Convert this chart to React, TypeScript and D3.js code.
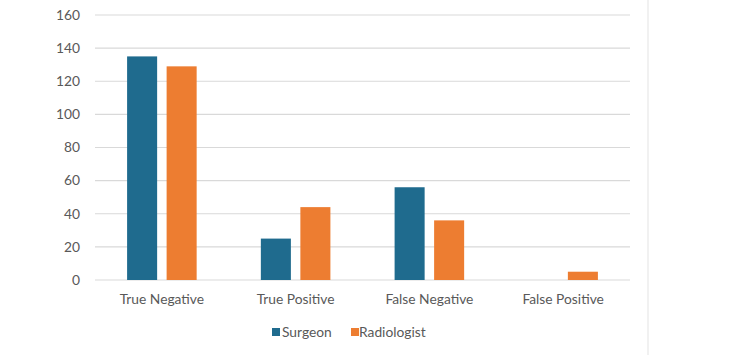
import React from "react";
import * as d3 from "d3";

const categories = ["True Negative", "True Positive", "False Negative", "False Positive"];
const seriesNames = ["Surgeon", "Radiologist"];
const surgeon = [135, 25, 56, 0];
const radiologist = [129, 44, 36, 5];
const yTicks = [0, 20, 40, 60, 80, 100, 120, 140, 160];
const colors = ["#1F6B8E", "#ED7D31"];

export default function App() {
  const W = 732, H = 355;
  const left = 95, right = 630, top = 15, bottom = 280;
  const x = d3.scaleBand<string>().domain(categories).range([left, right]).paddingInner(0).paddingOuter(0);
  const y = d3.scaleLinear().domain([0, 160]).range([bottom, top]);
  const groupW = x.bandwidth() * 0.52;
  const inner = d3.scaleBand<string>().domain(seriesNames).range([0, groupW]).paddingInner(0.24);
  const data = [surgeon, radiologist];
  const font = "Lato, 'Open Sans', sans-serif";
  const fs = 13.8;
  return (
    <svg width={W} height={H} style={{ position: "absolute", left: 0, top: 0, background: "#fff" }} fontFamily={font}>
      <line x1={648} x2={648} y1={0} y2={H} stroke="#ececec" strokeWidth={1.5} />
      {yTicks.map((t) => (
        <g key={t}>
          <line x1={left} x2={right} y1={y(t)} y2={y(t)} stroke="#d9d9d9" strokeWidth={1.2} />
          <text x={80} y={y(t)} dy="0.35em" textAnchor="end" fontSize={fs} fill="#595959">{t}</text>
        </g>
      ))}
      {categories.map((c, i) => {
        const gx = (x(c) as number) + (x.bandwidth() - groupW) / 2;
        return (
          <g key={c}>
            {seriesNames.map((s, j) => {
              const v = data[j][i];
              if (v <= 0) return null;
              return (
                <rect key={s} x={gx + (inner(s) as number)} width={inner.bandwidth()} y={y(v)} height={y(0) - y(v)} fill={colors[j]} />
              );
            })}
            <text x={(x(c) as number) + x.bandwidth() / 2} y={299} dy="0.35em" textAnchor="middle" fontSize={fs} fill="#595959">{c}</text>
          </g>
        );
      })}
      <g>
        <rect x={272} y={328} width={8} height={8} fill={colors[0]} />
        <text x={282} y={332.5} dy="0.35em" fontSize={fs} fill="#595959">{seriesNames[0]}</text>
        <rect x={351} y={328} width={8} height={8} fill={colors[1]} />
        <text x={359} y={332.5} dy="0.35em" fontSize={fs} fill="#595959">{seriesNames[1]}</text>
      </g>
    </svg>
  );
}
